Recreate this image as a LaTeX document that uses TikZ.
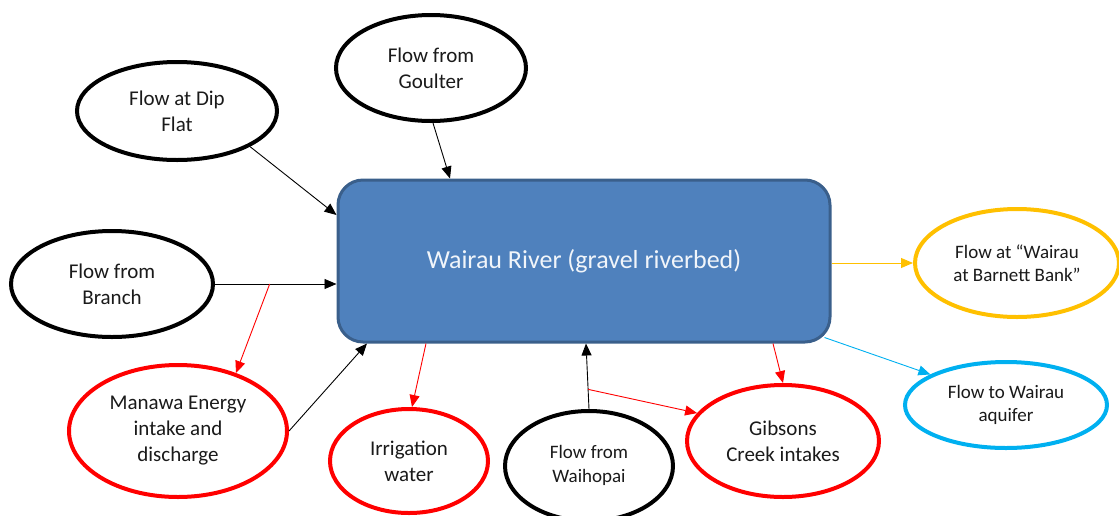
\documentclass[tikz,border=0pt]{standalone}
\usepackage{fontspec}
\setmainfont{Carlito}
\usetikzlibrary{shapes.geometric,arrows.meta,calc}
\definecolor{boxfill}{HTML}{4F81BD}
\definecolor{boxline}{HTML}{3A5F8B}
\definecolor{txt}{HTML}{1A1A1A}
\definecolor{myred}{HTML}{FF0000}
\definecolor{myyellow}{HTML}{FFC000}
\definecolor{myblue}{HTML}{00B0F0}
\tikzset{
  oval/.style={ellipse, draw, line width=4pt, fill=white, text=txt, align=center, inner sep=0pt,
    font=\fontsize{21}{26}\selectfont},
  smalloval/.style={oval, font=\fontsize{19}{23.5}\selectfont},
  river/.style={rectangle, rounded corners=25pt, draw=boxline, line width=3pt, fill=boxfill,
    text=white!92!boxfill, minimum width=492pt, minimum height=162pt, inner sep=0pt,
    font=\fontsize{26}{31}\selectfont},
  conn/.style={line width=0.9pt, -{Triangle[length=12pt,width=10pt]}},
}
\begin{document}
\begin{tikzpicture}[x=1pt,y=-1pt]
\useasboundingbox (0,0) rectangle (1119,515);
\node[river] (box) at (584,261) {\raisebox{-5pt}{Wairau River (gravel riverbed)}};
\node[oval, minimum width=200pt, minimum height=98pt] (dip) at (177,111) {Flow at Dip\\Flat};
\node[oval, minimum width=190pt, minimum height=106pt] (goulter) at (431,68) {Flow from\\Goulter};
\node[oval, minimum width=202pt, minimum height=106pt] (branch) at (112,284) {Flow from\\Branch};
\node[oval, draw=myred, minimum width=218pt, minimum height=132pt] (manawa) at (178,431) {Manawa Energy\\intake and\\discharge};
\node[oval, draw=myred, minimum width=158pt, minimum height=104pt] (irrig) at (409,461) {Irrigation\\water};
\node[smalloval, minimum width=168pt, minimum height=110pt] (waihopai) at (589,466) {\raisebox{-3pt}{\begin{tabular}{@{}c@{}}Flow from\\Waihopai\end{tabular}}};
\node[oval, draw=myred, minimum width=192pt, minimum height=112pt] (gibsons) at (783,441) {Gibsons\\Creek intakes};
\node[smalloval, draw=myyellow, minimum width=204pt, minimum height=108pt] (barnett) at (1017,263) {Flow at “Wairau\\at Barnett Bank”};
\node[smalloval, draw=myblue, minimum width=202pt, minimum height=86pt] (aquifer) at (1006,405) {Flow to Wairau\\aquifer};

\coordinate (bj) at ($(branch.east)!0.45!(branch.east -| box.west)$);
\coordinate (wj) at ($(waihopai.north)!0.3!([xshift=2pt]box.south)$);

\draw[conn] (dip.-26) -- ([yshift=46pt]box.west);
\draw[conn] ([xshift=2pt]goulter.south) -- ([xshift=-134pt]box.north);
\draw[conn] (branch.east) -- (branch.east -| box.west);
\draw[conn, myred] (bj) -- (manawa.45);
\draw[conn] (manawa.east) -- ([xshift=-217pt]box.south);
\draw[conn, myred] ([xshift=-158pt]box.south) -- ([xshift=3pt]irrig.north);
\draw[conn] (waihopai.north) -- ([xshift=2pt]box.south);
\draw[conn, myred] (wj) -- (gibsons.162);
\draw[conn, myred] ([xshift=189pt]box.south) -- (gibsons.north);
\draw[conn, myblue] ([shift={(-7pt,6pt)}]box.south east) -- (aquifer.158);
\draw[conn, myyellow] (box.east |- barnett.west) -- (barnett.west);
\end{tikzpicture}
\end{document}
